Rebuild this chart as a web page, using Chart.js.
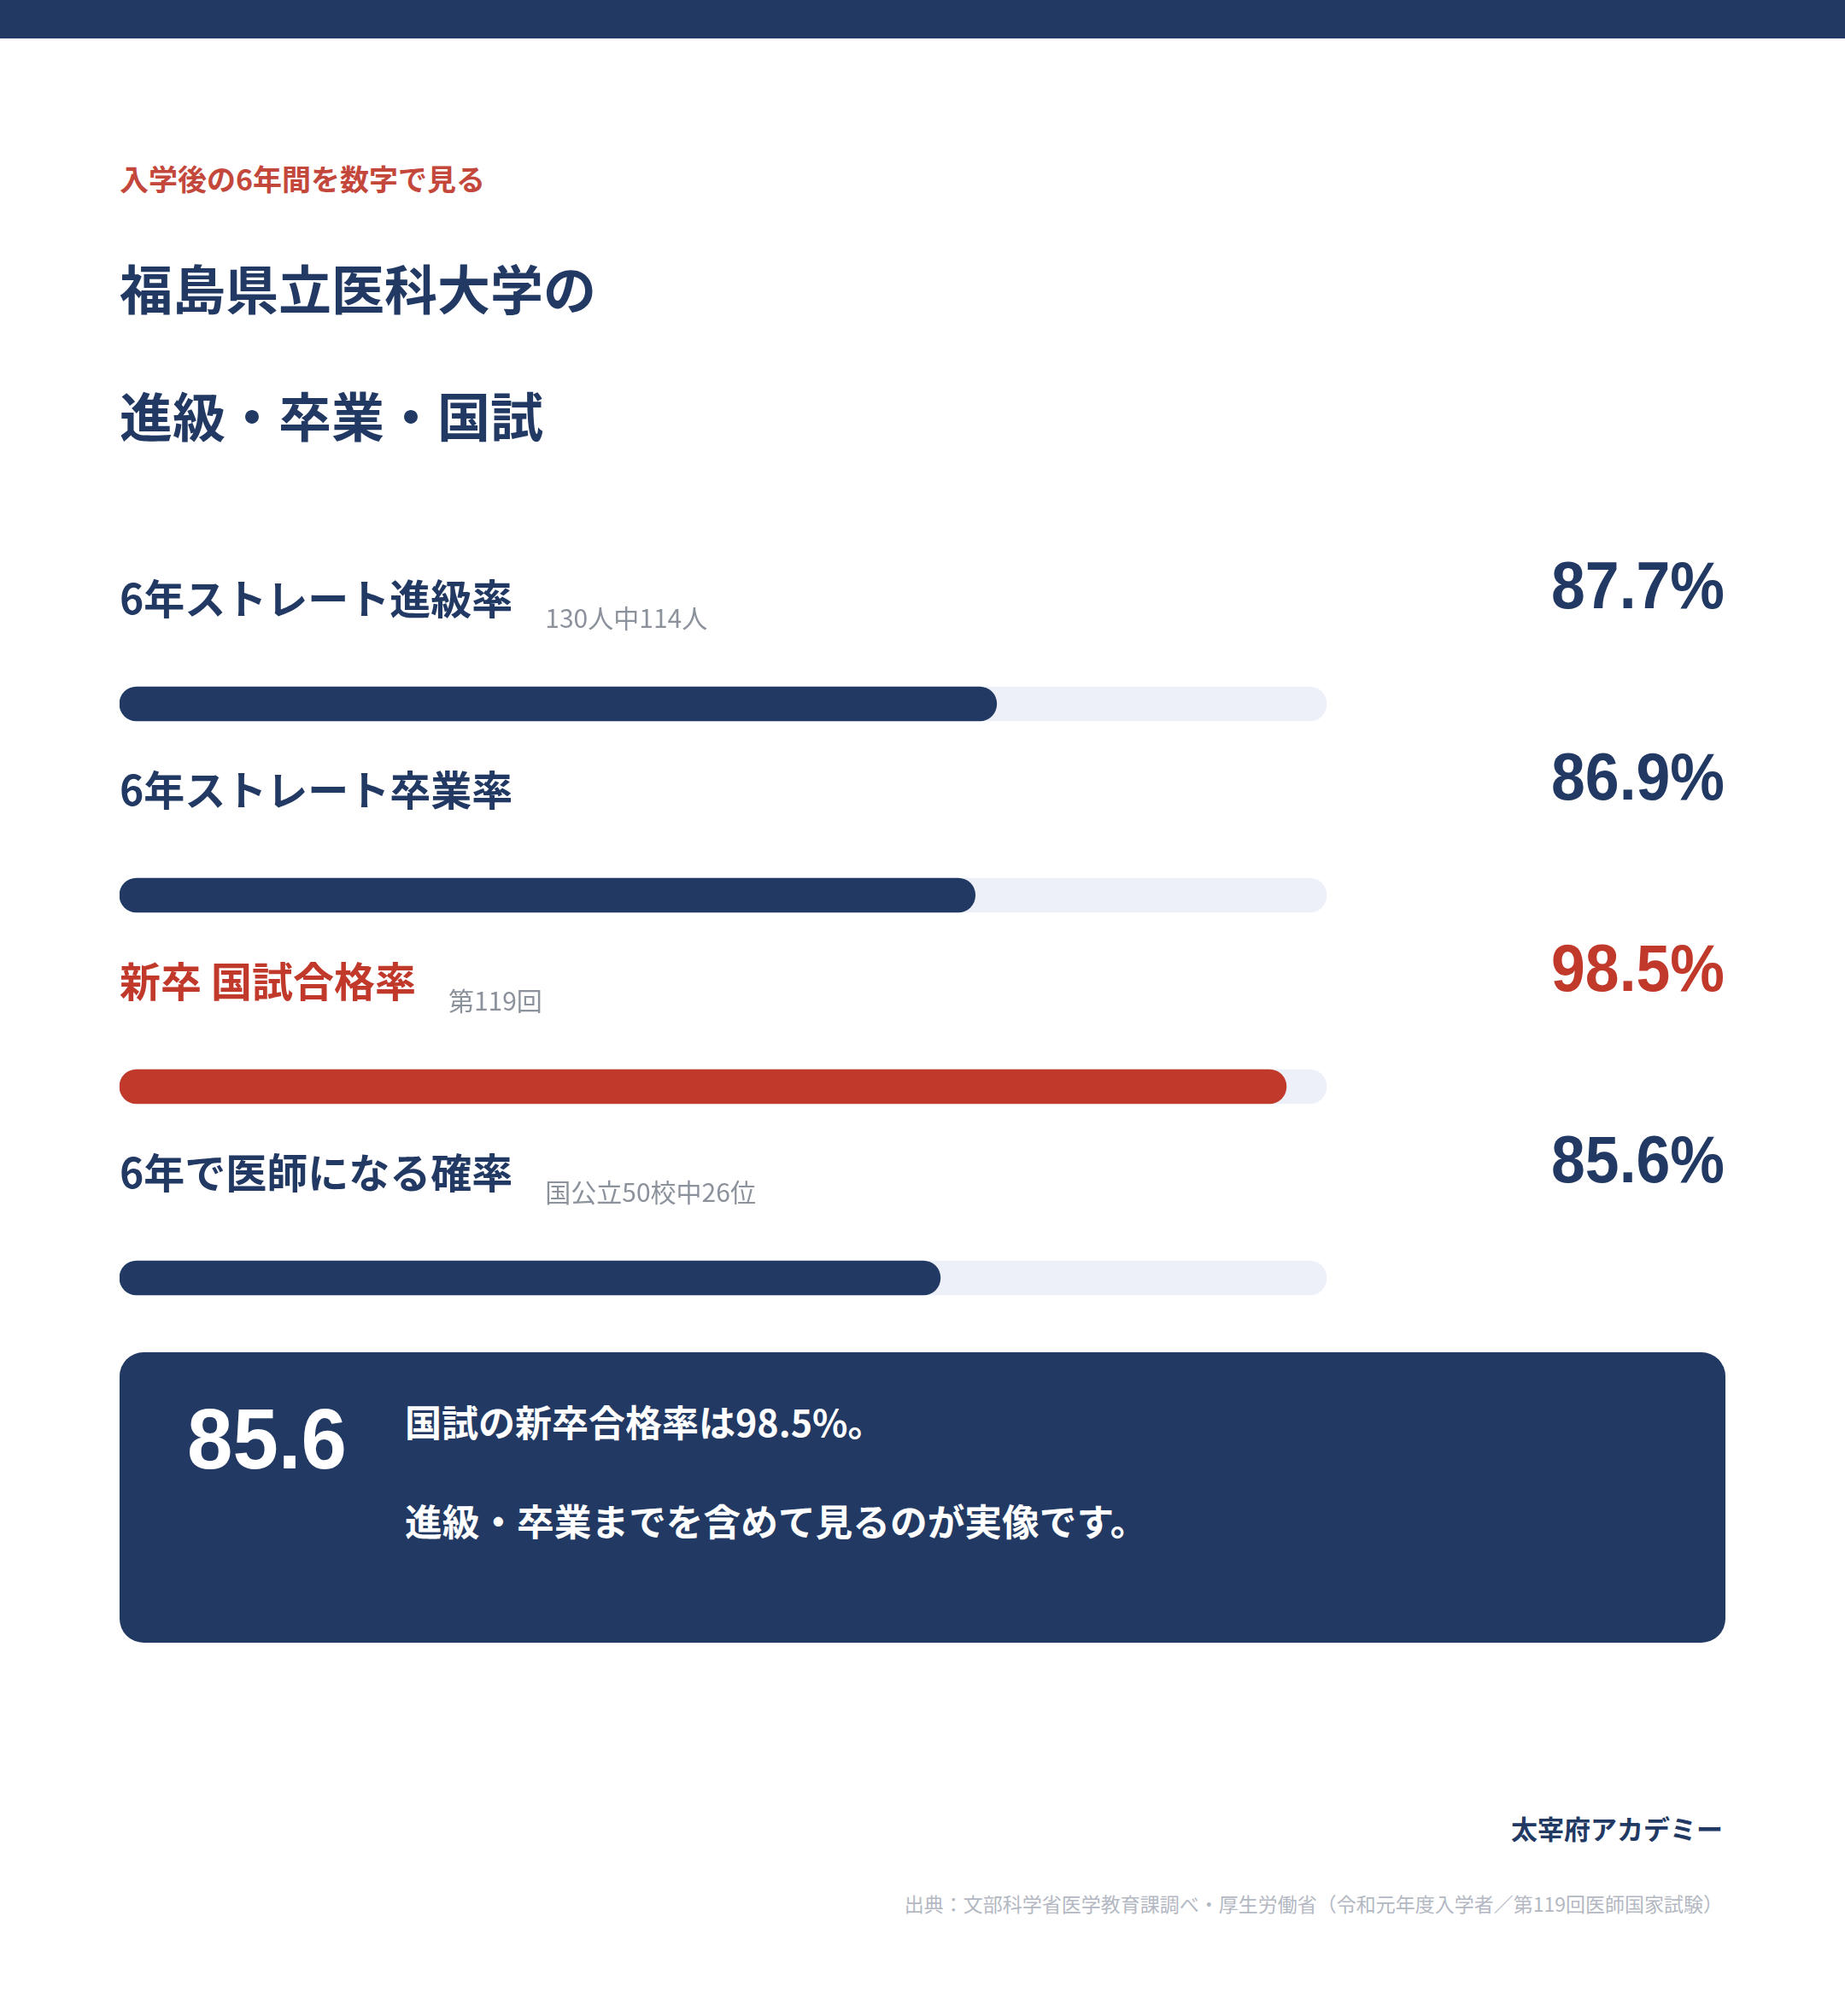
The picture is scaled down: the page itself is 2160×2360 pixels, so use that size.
<!DOCTYPE html>
<html lang="ja">
<head>
<meta charset="utf-8">
<script src="https://cdn.jsdelivr.net/npm/chart.js@4.4.1/dist/chart.umd.min.js"></script>
<style>
  body { margin: 0; background: #fff; }
  #page { position: relative; width: 2160px; height: 2360px; background: #fff; overflow: hidden;
          font-family: "Noto Sans CJK JP", "Noto Sans", sans-serif; color: #213963; }
  .abs { position: absolute; white-space: nowrap; }
  #band { left: 0; top: 0; width: 2160px; height: 45px; background: #213963; }
  #kicker { left: 140px; top: 192px; font-size: 34px; line-height: 34px; font-weight: 700; color: #c4473b; }
  .title { left: 140px; font-size: 62px; line-height: 62px; font-weight: 700; }
  #chartWrap { left: 0; top: 600px; width: 2160px; height: 1008px; }
  #box { left: 140px; top: 1583px; width: 1880px; height: 340px; background: #213963; border-radius: 28px; }
  #bigNum { left: 79px; top: 51px; font-family: "Liberation Sans", Arial, sans-serif; font-size: 100px;
            line-height: 100px; font-weight: 700; color: #fff;
            transform: scaleX(0.96); transform-origin: left top; }
  .boxLine { left: 334px; font-size: 43px; line-height: 43px; font-weight: 700; color: #fff; }
  #brand { right: 143px; top: 2124px; font-size: 31px; line-height: 31px; font-weight: 700; }
  #source { right: 143px; top: 2217px; font-size: 23px; line-height: 23px; color: #b3b8c2; }
</style>
</head>
<body>
<div id="page">
  <div id="band" class="abs"></div>
  <div id="kicker" class="abs">入学後の6年間を数字で見る</div>
  <div class="abs title" style="top:305px">福島県立医科大学の</div>
  <div class="abs title" style="top:454px">進級・卒業・国試</div>

  <div id="chartWrap" class="abs"><canvas id="rateChart" width="2160" height="1008"></canvas></div>

  <div id="box" class="abs">
    <div id="bigNum" class="abs">85.6</div>
    <div class="abs boxLine" style="top:59px">国試の新卒合格率は98.5%。</div>
    <div class="abs boxLine" style="top:175px; font-size:43.7px; line-height:43.7px">進級・卒業までを含めて見るのが実像です。</div>
  </div>

  <div id="brand" class="abs">太宰府アカデミー</div>
  <div id="source" class="abs">出典：文部科学省医学教育課調べ・厚生労働省（令和元年度入学者／第119回医師国家試験）</div>
</div>

<script>
// data
const categories = ['6年ストレート進級率', '6年ストレート卒業率', '新卒 国試合格率', '6年で医師になる確率'];
const rates = [87.7, 86.9, 98.5, 85.6];
const notes = ['130人中114人', '', '第119回', '国公立50校中26位'];
const axisMin = 55;
const axisMax = 100;

const navy = '#213963';
const red = '#c0392b';
const track = '#edf0f8';
const gray = '#8c929c';
const highlightIndex = 2;   // the national exam row is red

// labels, notes and percentages drawn above each bar
const rowText = {
    id: 'rowText',
    afterDatasetsDraw(chart) {
        const ctx = chart.ctx;
        const xs = chart.scales.x;
        const ys = chart.scales.y;
        ctx.save();
        categories.forEach(function(name, i) {
            const yc = ys.getPixelForValue(i);
            const col = i === highlightIndex ? red : navy;

            ctx.textBaseline = 'middle';
            ctx.textAlign = 'left';
            ctx.font = '700 48px "Noto Sans CJK JP"';
            ctx.fillStyle = col;
            ctx.fillText(name, xs.left, yc - 123);

            if (notes[i]) {
                const w = ctx.measureText(name).width;
                ctx.font = '400 30px "Noto Sans CJK JP"';
                ctx.fillStyle = gray;
                ctx.fillText(notes[i], xs.left + w + 38, yc - 100);
            }

            // big percentage, right aligned and a bit condensed
            ctx.textBaseline = 'alphabetic';
            ctx.textAlign = 'right';
            ctx.font = '700 78px "Liberation Sans"';
            ctx.fillStyle = col;
            ctx.fillText(rates[i].toFixed(1) + '%', chart.width - 141, yc - 112, 203);
        });
        ctx.restore();
    }
};

const ctx = document.getElementById('rateChart').getContext('2d');

const chart = new Chart(ctx, {
    type: 'bar',
    data: {
        labels: categories,
        datasets: [{
            // first dataset is drawn on top
            data: rates,
            base: axisMin,
            grouped: false,
            backgroundColor: rates.map((v, i) => i === highlightIndex ? red : navy),
            barThickness: 40,
            borderRadius: 20,
            borderSkipped: false
        }, {
            data: categories.map(() => axisMax),
            base: axisMin,
            grouped: false,
            backgroundColor: track,
            barThickness: 40,
            borderRadius: 20,
            borderSkipped: false
        }]
    },
    options: {
        indexAxis: 'y',
        responsive: false,
        animation: false,
        devicePixelRatio: 1,
        layout: {
            padding: { left: 140, right: 607, top: 112, bottom: 0 }
        },
        plugins: {
            legend: { display: false },
            tooltip: { enabled: false }
        },
        scales: {
            x: { min: axisMin, max: axisMax, display: false },
            y: { display: false }
        }
    },
    plugins: [rowText]
});
</script>
</body>
</html>
